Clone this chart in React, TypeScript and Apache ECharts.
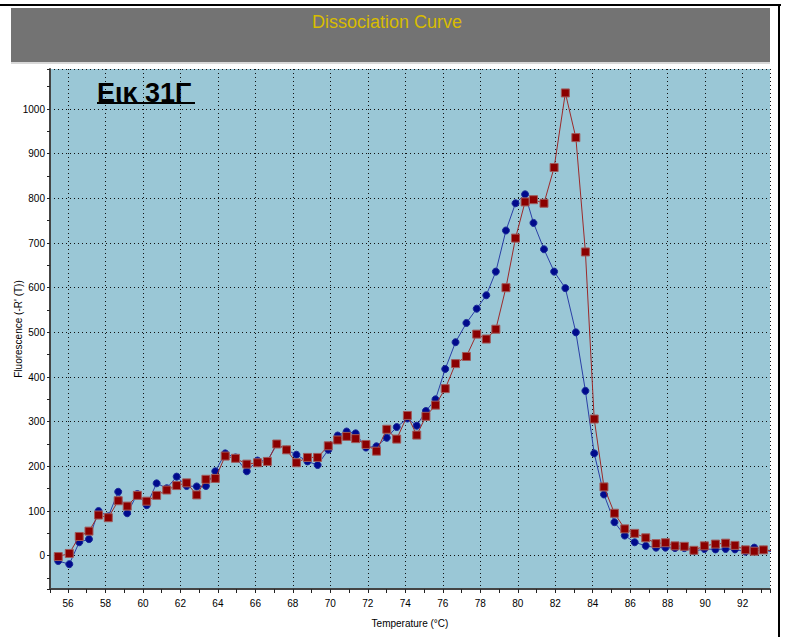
import { useEffect, useRef } from "react";
import * as echarts from "echarts";

const temperatures = [
  55.48, 56.07, 56.6, 57.12, 57.63, 58.15, 58.68, 59.16, 59.7, 60.2,
  60.73, 61.27, 61.8, 62.33, 62.87, 63.36, 63.86, 64.39, 64.94, 65.54,
  66.11, 66.64, 67.14, 67.66, 68.19, 68.78, 69.32, 69.89, 70.39, 70.87,
  71.35, 71.9, 72.46, 73.01, 73.54, 74.11, 74.61, 75.1, 75.61, 76.13,
  76.68, 77.26, 77.81, 78.32, 78.83, 79.37, 79.88, 80.39, 80.84, 81.4,
  81.94, 82.54, 83.1, 83.61, 84.08, 84.6, 85.16, 85.71, 86.24, 86.83,
  87.38, 87.88, 88.39, 88.89, 89.4, 89.96, 90.55, 91.09, 91.59, 92.15,
  92.62, 93.11, 93.62,
];

const blueValues = [
  -12, -19, 30, 37, 100, 88, 143, 95, 138, 113,
  162, 151, 177, 156, 155, 156, 189, 229, 220, 189,
  213, 212, 250, 237, 226, 211, 203, 237, 269, 278,
  274, 242, 245, 264, 288, 307, 291, 324, 350, 418,
  478, 521, 553, 583, 636, 728, 789, 809, 745, 686,
  636, 599, 500, 369, 229, 137, 75, 45, 30, 22,
  18, 18, 17, 17, 10, 15, 14, 15, 14, 9,
  18, 13, 8,
];

const redValues = [
  -2, 5, 43, 55, 91, 85, 123, 111, 135, 122,
  135, 147, 157, 163, 136, 171, 173, 223, 218, 205,
  208, 211, 250, 237, 208, 220, 220, 246, 259, 267,
  262, 249, 234, 283, 261, 314, 270, 312, 337, 374,
  430, 446, 496, 485, 507, 600, 711, 792, 797, 789,
  869, 1036, 936, 680, 306, 154, 95, 60, 50, 40,
  27, 29, 22, 21, 12, 22, 26, 28, 23, 13,
  10, 13, 11,
];

const chartTitle = "Dissociation Curve";
const figureLabel = "Εικ 31Γ";
const xName = "Temperature (°C)";
const yName = "Fluorescence (-R' (T))";

const tickFont = "'Liberation Sans Narrow', 'Arial Narrow', 'Liberation Sans', Arial, sans-serif";

export default function App() {
  const ref = useRef<HTMLDivElement>(null);
  useEffect(() => {
    const chart = echarts.init(ref.current!, null, { renderer: "svg" });
    chart.setOption({
      animation: false,
      backgroundColor: "#ffffff",
      grid: {
        left: 50,
        top: 69,
        width: 720,
        height: 520,
        show: true,
        backgroundColor: "#9AC7D6",
        borderWidth: 0,
        containLabel: false,
        outerBoundsMode: "none",
      },
      xAxis: {
        type: "value",
        min: 55.04,
        max: 93.46,
        splitNumber: 19,
        name: xName,
        nameLocation: "middle",
        nameGap: 29,
        nameMoveOverlap: false,
        nameTextStyle: { fontFamily: tickFont, fontSize: 10, color: "#000" },
        axisLine: { show: true, onZero: false, lineStyle: { color: "#444", width: 2 } },
        axisTick: { show: true, length: 4, lineStyle: { color: "#222", width: 1 } },
        minorTick: { show: true, splitNumber: 2, length: 4, lineStyle: { color: "#222", width: 1 } },
        axisLabel: {
          showMinLabel: false,
          showMaxLabel: false,
          margin: 9,
          fontFamily: tickFont,
          fontSize: 10,
          color: "#000",
          formatter: (v: number) => String(v),
        },
        splitLine: { show: true, lineStyle: { color: "#111", width: 1, type: [1, 3] } },
      },
      yAxis: {
        type: "value",
        min: -74.6,
        max: 1089.6,
        splitNumber: 12,
        name: yName,
        nameLocation: "middle",
        nameRotate: 90,
        nameGap: 27,
        nameMoveOverlap: false,
        nameTextStyle: { fontFamily: "'Liberation Sans', Arial, sans-serif", fontSize: 10, color: "#000" },
        axisLine: { show: true, onZero: false, lineStyle: { color: "#444", width: 2 } },
        axisTick: { show: true, length: 3, lineStyle: { color: "#222", width: 1 } },
        minorTick: { show: true, splitNumber: 2, length: 3, lineStyle: { color: "#222", width: 1 } },
        axisLabel: {
          showMinLabel: false,
          showMaxLabel: false,
          margin: 5,
          fontFamily: tickFont,
          fontSize: 10,
          color: "#000",
          formatter: (v: number) => String(v),
        },
        splitLine: { show: true, lineStyle: { color: "#111", width: 1, type: [1, 3] } },
      },
      series: [
        {
          name: "Sample A",
          type: "line",
          data: temperatures.map((t, i) => [t, blueValues[i]]),
          symbol: "circle",
          symbolSize: 7,
          showAllSymbol: true,
          clip: true,
          lineStyle: { color: "#2a3fa6", width: 1 },
          itemStyle: { color: "#000a8c", borderColor: "#1a2a9a", borderWidth: 1 },
          z: 3,
        },
        {
          name: "Sample B",
          type: "line",
          data: temperatures.map((t, i) => [t, redValues[i]]),
          symbol: "rect",
          symbolSize: 8,
          showAllSymbol: true,
          clip: true,
          lineStyle: { color: "#9c2a2a", width: 1 },
          itemStyle: { color: "#8b0000", borderColor: "#a05a5a", borderWidth: 1 },
          z: 4,
        },
      ],
      graphic: [
        { type: "rect", shape: { x: 0, y: 4, width: 781, height: 2 }, style: { fill: "#000" }, silent: true },
        { type: "rect", shape: { x: 778, y: 4, width: 2, height: 633 }, style: { fill: "#000" }, silent: true },
        { type: "rect", shape: { x: 11, y: 8, width: 759, height: 54 }, style: { fill: "#737373" }, silent: true },
        { type: "rect", shape: { x: 11, y: 62, width: 759, height: 2 }, style: { fill: "#d8d8d8" }, silent: true },
        {
          type: "text",
          x: 387,
          y: 22,
          style: {
            text: chartTitle,
            fill: "#d8bc00",
            font: "18px 'Liberation Sans Narrow', 'Liberation Sans', Arial, sans-serif",
            align: "center",
            verticalAlign: "middle",
          },
          silent: true,
        },
        {
          type: "text",
          x: 97,
          y: 93,
          z: 10,
          style: {
            text: figureLabel,
            fill: "#000",
            font: "bold 27px 'Liberation Sans', Arial, sans-serif",
            align: "left",
            verticalAlign: "middle",
          },
          silent: true,
        },
        { type: "rect", z: 10, shape: { x: 97, y: 102, width: 98, height: 2 }, style: { fill: "#000" }, silent: true },
      ],
    });
    return () => chart.dispose();
  }, []);
  return <div ref={ref} style={{ position: "absolute", left: 0, top: 0, width: 789, height: 637 }} />;
}
